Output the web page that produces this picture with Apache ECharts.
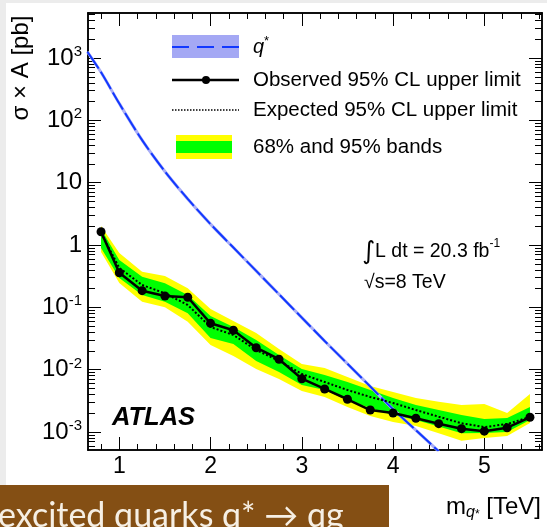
<!DOCTYPE html>
<html>
<head>
<meta charset="utf-8">
<script src="https://cdn.jsdelivr.net/npm/echarts@6/dist/echarts.min.js"></script>
<style>
  html, body { margin: 0; padding: 0; background: #ececec; }
  #chart { width: 547px; height: 527px; }
</style>
</head>
<body>
<div id="chart"></div>
<script>
// Resonance mass points (TeV)
const massTeV = [0.8, 1.0, 1.25, 1.5, 1.75, 2.0, 2.25, 2.5, 2.75, 3.0, 3.25, 3.5, 3.75, 4.0, 4.25, 4.5, 4.75, 5.0, 5.25, 5.5];
// Observed 95% CL upper limit on sigma x A (pb)
const observed = [1.63, 0.359, 0.185, 0.152, 0.145, 0.0554, 0.0428, 0.0225, 0.0147, 0.00716, 0.0049, 0.00335, 0.00225, 0.00202, 0.00166, 0.00136, 0.00113, 0.00103, 0.00117, 0.00172];
// Expected 95% CL upper limit (pb)
const expected = [1.56, 0.428, 0.228, 0.168, 0.109, 0.0483, 0.036, 0.0207, 0.0138, 0.0085, 0.00634, 0.00472, 0.00364, 0.00292, 0.00225, 0.00176, 0.00138, 0.0012, 0.00134, 0.00174];
// 68% band edges
const band68Up = [1.81, 0.574, 0.310, 0.243, 0.158, 0.0726, 0.0484, 0.0299, 0.0172, 0.01025, 0.0082, 0.00634, 0.00472, 0.00351, 0.00271, 0.00225, 0.00187, 0.00162, 0.00168, 0.00252];
const band68Lo = [0.895, 0.295, 0.158, 0.123, 0.0802, 0.0322, 0.0258, 0.0138, 0.00917, 0.00568, 0.00472, 0.00326, 0.00243, 0.00187, 0.00156, 0.00122, 0.000953, 0.000964, 0.001, 0.00156];
// 95% band edges
const band95Up = [2.02, 0.744, 0.373, 0.318, 0.202, 0.094, 0.0604, 0.0387, 0.0215, 0.01233, 0.01064, 0.00762, 0.00547, 0.00438, 0.00351, 0.00306, 0.00271, 0.00281, 0.00201, 0.00407];
const band95Lo = [0.772, 0.246, 0.123, 0.100, 0.0588, 0.0249, 0.0166, 0.01025, 0.00708, 0.00455, 0.00364, 0.00252, 0.0018, 0.00145, 0.00125, 0.000953, 0.000724, 0.0008, 0.000863, 0.00139];
// Excited quark q* theory prediction
const qstarMass = [0.65, 0.8, 1.0, 1.25, 1.5, 1.75, 2.0, 2.25, 2.5, 2.75, 3.0, 3.25, 3.5, 3.75, 4.0, 4.25, 4.5];
const qstarXsec = [1260, 590, 186, 48.1, 15.1, 5.48, 2.16, 0.91, 0.384, 0.162, 0.0684, 0.0288, 0.01245, 0.00537, 0.00232, 0.00107, 0.00049];

// Axis ticks
const xMajorTicks = [1, 2, 3, 4, 5];
const xMinorTicks = [0.8, 1.2, 1.4, 1.6, 1.8, 2.2, 2.4, 2.6, 2.8, 3.2, 3.4, 3.6, 3.8, 4.2, 4.4, 4.6, 4.8, 5.2, 5.4, 5.6];
const yDecadeExponents = [-3, -2, -1, 0, 1, 2, 3];

const X_MIN = 0.657, X_MAX = 5.632;
const Y_MIN = -3.289, Y_MAX = 3.722;   // log10(pb)

const lg = Math.log10;
const yMinorTicks = [];
for (let k = -4; k <= 3; k++) {
  for (let m = 2; m <= 9; m++) {
    const v = lg(m) + k;
    if (v > Y_MIN && v < Y_MAX) yMinorTicks.push(v);
  }
}

const FONT = 'Liberation Sans, Arial, Helvetica, sans-serif';

function pairs(xs, ys) { return xs.map((x, i) => [x, lg(ys[i])]); }

function xAxisDef(pos, ticks, len, withLabels) {
  return {
    type: 'value', position: pos, min: X_MIN, max: X_MAX,
    splitLine: { show: false },
    axisLine: { show: true, onZero: false, lineStyle: { color: '#000', width: 1.5 } },
    axisTick: { show: true, inside: true, length: len, customValues: ticks, lineStyle: { color: '#000', width: 1 } },
    axisLabel: withLabels ? {
      show: true, customValues: xMajorTicks, margin: 5, color: '#000',
      fontFamily: FONT, fontSize: 23, formatter: v => String(Math.round(v))
    } : { show: false }
  };
}

function yLabel(v) {
  const e = Math.round(v);
  if (e === 0) return '{b|1}';
  if (e === 1) return '{b|10}';
  return '{b|10}{s|' + e + '}';
}

function yAxisDef(pos, ticks, len, withLabels) {
  return {
    type: 'value', position: pos, min: Y_MIN, max: Y_MAX,
    splitLine: { show: false },
    axisLine: { show: true, onZero: false, lineStyle: { color: '#000', width: 1.5 } },
    axisTick: { show: true, inside: true, length: len, customValues: ticks, lineStyle: { color: '#000', width: 1 } },
    axisLabel: withLabels ? {
      show: true, customValues: yDecadeExponents, margin: 6, color: '#000',
      fontFamily: FONT, fontSize: 24, formatter: yLabel,
      rich: {
        b: { fontFamily: FONT, fontSize: 24, color: '#000', lineHeight: 27 },
        s: { fontFamily: FONT, fontSize: 15, color: '#000', verticalAlign: 'top', lineHeight: 15 }
      }
    } : { show: false }
  };
}

function bandSeries(lo, hi, color) {
  return {
    type: 'custom', xAxisIndex: 0, yAxisIndex: 0, silent: true, clip: true,
    data: [[massTeV[0], 0]],
    renderItem: function (params, api) {
      const pts = [];
      for (let i = 0; i < massTeV.length; i++) pts.push(api.coord([massTeV[i], lg(hi[i])]));
      for (let i = massTeV.length - 1; i >= 0; i--) pts.push(api.coord([massTeV[i], lg(lo[i])]));
      return { type: 'polygon', shape: { points: pts }, style: { fill: color, stroke: null } };
    }
  };
}

const legendX = 172, legendTextX = 253;
const legendRows = [47, 80, 110, 147];

const chart = echarts.init(document.getElementById('chart'), null, { renderer: 'canvas' });
chart.setOption({
  animation: false,
  backgroundColor: '#ececec',
  grid: { left: 88, top: 13, width: 454, height: 437, containLabel: false },
  xAxis: [
    xAxisDef('bottom', xMajorTicks, 13, true),
    xAxisDef('bottom', xMinorTicks, 6, false),
    xAxisDef('top', xMajorTicks, 13, false),
    xAxisDef('top', xMinorTicks, 6, false)
  ],
  yAxis: [
    yAxisDef('left', yDecadeExponents, 13, true),
    yAxisDef('left', yMinorTicks, 7, false),
    yAxisDef('right', yDecadeExponents, 13, false),
    yAxisDef('right', yMinorTicks, 7, false)
  ],
  series: [
    bandSeries(band95Lo, band95Up, '#ffff00'),
    bandSeries(band68Lo, band68Up, '#00ff00'),
    {
      type: 'line', xAxisIndex: 0, yAxisIndex: 0, data: pairs(qstarMass, qstarXsec),
      smooth: 0.3, showSymbol: false, clip: true, silent: true,
      lineStyle: { color: '#a9aef7', width: 3 }
    },
    {
      type: 'line', xAxisIndex: 0, yAxisIndex: 0, data: pairs(qstarMass, qstarXsec),
      smooth: 0.3, showSymbol: false, clip: true, silent: true,
      lineStyle: { color: '#1238ff', width: 2, type: [20, 4] }
    },
    {
      type: 'line', xAxisIndex: 0, yAxisIndex: 0, data: pairs(massTeV, expected),
      showSymbol: false, clip: true, silent: true,
      lineStyle: { color: '#000', width: 2, type: [2, 2] }
    },
    {
      type: 'line', xAxisIndex: 0, yAxisIndex: 0, data: pairs(massTeV, observed),
      symbol: 'circle', symbolSize: 9, showSymbol: true, clip: false, silent: true,
      itemStyle: { color: '#000' },
      lineStyle: { color: '#000', width: 2.5 }
    }
  ],
  graphic: [
    // page panel
    { type: 'rect', z: -10, silent: true, shape: { x: 6, y: 3, width: 541, height: 524 }, style: { fill: '#ffffff' } },
    // y axis title
    {
      type: 'text', x: 21, y: 68, rotation: Math.PI / 2, silent: true,
      style: { text: 'σ × A [pb]', font: '24px ' + FONT, fill: '#000', align: 'center', verticalAlign: 'middle' }
    },
    // x axis title
    {
      type: 'text', x: 541, y: 507, silent: true,
      style: {
        text: '{m|m}{q|q}{a|*}{m| [TeV]}', align: 'right', verticalAlign: 'middle',
        rich: {
          m: { fontFamily: FONT, fontSize: 24, fill: '#000', lineHeight: 28 },
          q: { fontFamily: FONT, fontStyle: 'italic', fontSize: 16, fill: '#000', verticalAlign: 'bottom', lineHeight: 15 },
          a: { fontFamily: FONT, fontSize: 12, fill: '#000', verticalAlign: 'bottom', lineHeight: 20 }
        }
      }
    },
    // legend: q*
    { type: 'rect', silent: true, shape: { x: legendX, y: 35, width: 67, height: 23 }, style: { fill: '#a4a8f4' } },
    { type: 'line', silent: true, shape: { x1: legendX, y1: legendRows[0], x2: legendX + 67, y2: legendRows[0] }, style: { stroke: '#1238ff', lineWidth: 2, lineDash: [17, 8] } },
    {
      type: 'text', x: legendTextX, y: legendRows[0], silent: true,
      style: {
        text: '{q|q}{s|*}', verticalAlign: 'middle',
        rich: {
          q: { fontFamily: FONT, fontStyle: 'italic', fontSize: 20, fill: '#000', lineHeight: 24 },
          s: { fontFamily: FONT, fontSize: 13, fill: '#000', verticalAlign: 'top', lineHeight: 13 }
        }
      }
    },
    // legend: observed
    { type: 'line', silent: true, shape: { x1: legendX, y1: legendRows[1], x2: legendX + 67, y2: legendRows[1] }, style: { stroke: '#000', lineWidth: 2.5 } },
    { type: 'circle', silent: true, shape: { cx: legendX + 34, cy: legendRows[1], r: 4 }, style: { fill: '#000' } },
    { type: 'text', x: legendTextX, y: legendRows[1], silent: true, style: { text: 'Observed 95% CL upper limit', font: '20.5px ' + FONT, fill: '#000', verticalAlign: 'middle' } },
    // legend: expected
    { type: 'line', silent: true, shape: { x1: legendX, y1: legendRows[2], x2: legendX + 67, y2: legendRows[2] }, style: { stroke: '#000', lineWidth: 1.5, lineDash: [1.5, 1.5] } },
    { type: 'text', x: legendTextX, y: legendRows[2], silent: true, style: { text: 'Expected 95% CL upper limit', font: '20.5px ' + FONT, fill: '#000', verticalAlign: 'middle' } },
    // legend: bands
    { type: 'rect', silent: true, shape: { x: 176, y: 135, width: 56, height: 24 }, style: { fill: '#ffff00' } },
    { type: 'rect', silent: true, shape: { x: 176, y: 141, width: 56, height: 12 }, style: { fill: '#00ff00' } },
    { type: 'text', x: legendTextX, y: legendRows[3], silent: true, style: { text: '68% and 95% bands', font: '20.5px ' + FONT, fill: '#000', verticalAlign: 'middle' } },
    // luminosity and energy
    {
      type: 'text', x: 362, y: 252, silent: true,
      style: {
        text: '{i|∫}{t|L dt = 20.3 fb}{s|-1}', verticalAlign: 'middle',
        rich: {
          i: { fontFamily: 'DejaVu Sans', fontSize: 25, fill: '#000', lineHeight: 28 },
          t: { fontFamily: FONT, fontSize: 19.5, fill: '#000', lineHeight: 22 },
          s: { fontFamily: FONT, fontSize: 12, fill: '#000', verticalAlign: 'top', lineHeight: 11 }
        }
      }
    },
    { type: 'text', x: 364, y: 283, silent: true, style: { text: '√s=8 TeV', font: '19.5px ' + FONT, fill: '#000', verticalAlign: 'middle' } },
    // experiment label
    { type: 'text', x: 112, y: 418, silent: true, style: { text: 'ATLAS', font: 'italic bold 25.5px ' + FONT, fill: '#000', verticalAlign: 'middle' } },
    // caption strip
    { type: 'rect', silent: true, shape: { x: 0, y: 485, width: 389, height: 42 }, style: { fill: '#844f14' } },
    { type: 'text', x: -2, y: 516, silent: true, style: { text: 'excited quarks q* → qg', font: '34px Lato, Open Sans, sans-serif', fill: '#f6efe4', verticalAlign: 'middle' } }
  ]
});
</script>
</body>
</html>
